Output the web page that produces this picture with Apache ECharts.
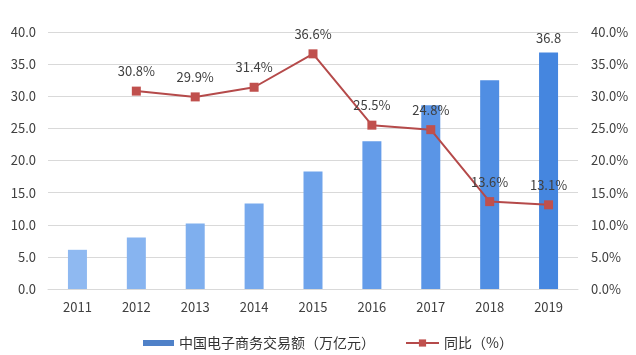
<!DOCTYPE html>
<html>
<head>
<meta charset="utf-8">
<script src="https://cdn.jsdelivr.net/npm/echarts@6/dist/echarts.min.js"></script>
<style>html,body{margin:0;padding:0;background:#fff;}#c{width:636px;height:355px;}</style>
</head>
<body>
<div id="c"></div>
<script>
var years = ['2011','2012','2013','2014','2015','2016','2017','2018','2019'];
var tradeVolume = [6.1, 8.0, 10.2, 13.3, 18.3, 23.0, 28.6, 32.5, 36.8];
var yoyGrowth = [null, 30.8, 29.9, 31.4, 36.6, 25.5, 24.8, 13.6, 13.1];
var barName = '中国电子商务交易额（万亿元）';
var lineName = '同比（%）';
var barColors = ['#8fb9f1','#87b4f0','#7fafee','#77a9ed','#6ea3eb','#649ce9','#5a95e6','#508ee3','#4586df'];

var chart = echarts.init(document.getElementById('c'));
var font = '"Microsoft YaHei","Noto Sans CJK SC","DejaVu Sans",sans-serif';
chart.setOption({
  animation: false,
  textStyle: {fontFamily: font},
  grid: {left: 48, right: 58, top: 32, bottom: 66},
  legend: [{
    data: [barName], left: 138, top: 331, itemWidth: 31, itemHeight: 6,
    icon: 'rect', textStyle: {fontSize: 14, color: '#333', fontFamily: font}, itemGap: 4
  }, {
    data: [lineName], left: 400, top: 331, itemWidth: 33, itemHeight: 9,
    textStyle: {fontSize: 14, color: '#333', fontFamily: font}
  }],
  xAxis: {
    type: 'category', data: years,
    axisLine: {show: true, lineStyle: {color: '#d9d9d9'}},
    axisTick: {show: false},
    axisLabel: {fontSize: 13, color: '#404040', margin: 12}
  },
  yAxis: [{
    type: 'value', min: 0, max: 40, interval: 5,
    axisLine: {show: false}, axisTick: {show: false},
    splitLine: {lineStyle: {color: '#d9d9d9'}},
    axisLabel: {fontSize: 13, color: '#404040', margin: 12, formatter: function(v){return v.toFixed(1);}}
  }, {
    type: 'value', min: 0, max: 40, interval: 5,
    axisLine: {show: false}, axisTick: {show: false}, splitLine: {show: false},
    axisLabel: {fontSize: 13, color: '#404040', margin: 13, formatter: function(v){return v.toFixed(1) + '%';}}
  }],
  series: [{
    name: barName, type: 'bar', barWidth: 19,
    itemStyle: {color: '#4f81c8'},
    data: tradeVolume.map(function(v, i){
      var d = {value: v, itemStyle: {color: barColors[i]}};
      if (i === tradeVolume.length - 1) {
        d.label = {show: true, position: 'top', distance: 8, fontSize: 13, color: '#404040', formatter: function(p){return p.value.toFixed(1);}};
      }
      return d;
    })
  }, {
    name: lineName, type: 'line', yAxisIndex: 1,
    data: yoyGrowth,
    symbol: 'rect', symbolSize: 9,
    lineStyle: {color: '#b54a4a', width: 2},
    itemStyle: {color: '#c0504d'},
    label: {show: true, position: 'top', distance: 9, fontSize: 13, color: '#404040', formatter: function(p){return p.value.toFixed(1) + '%';}}
  }]
});
</script>
</body>
</html>
